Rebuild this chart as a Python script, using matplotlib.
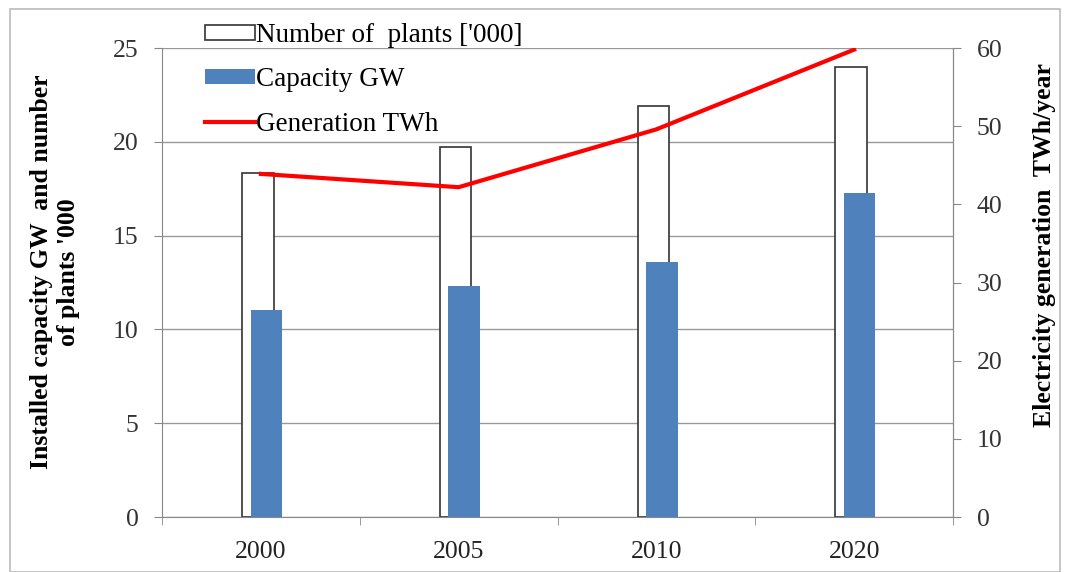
import matplotlib
matplotlib.use('Agg')
import matplotlib.pyplot as plt
import numpy as np
from matplotlib.patches import Patch, Rectangle
from matplotlib.lines import Line2D

years = ['2000', '2005', '2010', '2020']
plants = [18.35, 19.75, 21.9, 24.0]      # number of plants ['000]
capacity = [11.05, 12.3, 13.6, 17.25]    # GW
generation = [43.9, 42.2, 49.6, 59.8]    # TWh

plt.rcParams['font.family'] = ['Liberation Serif', 'DejaVu Serif']

fig = plt.figure(figsize=(10.66, 5.72), dpi=100)
ax = fig.add_axes([0.152, 0.096, 0.742, 0.820])

x = np.arange(len(years))
w = 0.16
ax.bar(x - 0.015, plants, width=w, color='white', edgecolor='#333333', linewidth=1.2, zorder=2)
ax.bar(x + 0.028, capacity, width=w, color='#4F81BD', zorder=3)

ax.set_xlim(-0.5, 3.5)
ax.set_ylim(0, 25)
ax.set_yticks(range(0, 26, 5))
ax.set_axisbelow(True)
ax.yaxis.grid(True, color='#999999', linewidth=1)

ax.set_xticks(x)
ax.set_xticklabels(years)
ax.set_xticks(np.arange(-0.5, 4, 1), minor=True)
ax.tick_params(axis='x', which='major', length=0, pad=17, labelsize=18.5, labelcolor='#222222')
ax.tick_params(axis='x', which='minor', length=6, color='#888888', direction='out')
ax.tick_params(axis='y', length=6, color='#888888', direction='out', pad=11, labelsize=18.5, labelcolor='#333333')

ax.spines['top'].set_visible(False)
for s in ['left', 'bottom', 'right']:
    ax.spines[s].set_color('#888888')

# axis titles
fig.text(55 / 1066, 1 - 272 / 572, "Installed capacity GW  and number\nof plants '000",
         rotation=90, ha='center', va='center', fontsize=18.5, fontweight='bold',
         linespacing=1.2, multialignment='center')

ax2 = ax.twinx()
ax2.plot(x, generation, color='#FF0000', linewidth=3, zorder=5)
ax2.set_ylim(0, 60)
ax2.set_yticks(range(0, 61, 10))
ax2.tick_params(axis='y', length=6, color='#888888', direction='out', pad=11, labelsize=18.5, labelcolor='#333333')
for s in ['top', 'left', 'bottom']:
    ax2.spines[s].set_visible(False)
ax2.spines['right'].set_color('#888888')
fig.text(1045 / 1066, 1 - 245 / 572, 'Electricity generation  TWh/year',
         rotation=90, ha='center', va='center', fontsize=18.5, fontweight='bold')

handles = [Patch(facecolor='white', edgecolor='#333333', linewidth=1.2),
           Patch(facecolor='#4F81BD'),
           Line2D([0], [0], color='#FF0000', linewidth=3)]
labels = ["Number of  plants ['000]", 'Capacity GW', 'Generation TWh']
fig.legend(handles, labels, loc='upper left', bbox_to_anchor=(0.192, 0.96), frameon=False,
           fontsize=19.5, handlelength=1.85, handleheight=0.45, handletextpad=0.05,
           labelspacing=0.72, borderaxespad=0, borderpad=0)

fig.patches.append(Rectangle((0.009, 0.0), 0.985, 0.985, transform=fig.transFigure,
                             fill=False, edgecolor='#BBBBBB', linewidth=1.2))

plt.savefig('out.png', dpi=100)
